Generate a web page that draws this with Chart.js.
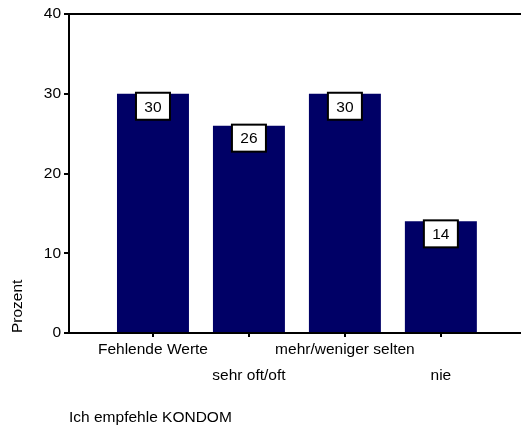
<!DOCTYPE html>
<html>
<head>
<meta charset="utf-8">
<script src="https://cdn.jsdelivr.net/npm/chart.js@4.4.1/dist/chart.umd.min.js"></script>
<style>
  html, body { margin: 0; padding: 0; background: #fff; }
  #wrap { width: 521px; height: 425px; }
</style>
</head>
<body>
<div id="wrap"><canvas id="chart"></canvas></div>
<script>
// Daten
const categories = ['Fehlende Werte', 'sehr oft/oft', 'mehr/weniger selten', 'nie'];
const percentValues = [30, 26, 30, 14];
const yTicks = [0, 10, 20, 30, 40];
const chartTitle = 'Ich empfehle KONDOM';
const yAxisLabel = 'Prozent';

const FONT = 'Liberation Sans, Arial, sans-serif';
const FONT_SIZE = 15.5;

// Rahmen oben + Wertekästchen + Titel
const extrasPlugin = {
    id: 'extras',
    afterDraw(chart) {
        const ctx = chart.ctx;
        const area = chart.chartArea;
        ctx.save();
        // obere Linie
        ctx.strokeStyle = '#000';
        ctx.lineWidth = 2;
        ctx.beginPath();
        ctx.moveTo(area.left - 5, area.top);
        ctx.lineTo(chart.width, area.top);
        ctx.stroke();

        // Wertebeschriftung in Kästchen
        const meta = chart.getDatasetMeta(0);
        ctx.font = FONT_SIZE + 'px ' + FONT;
        ctx.textAlign = 'center';
        ctx.textBaseline = 'middle';
        meta.data.forEach((bar, i) => {
            const w = 34, h = 27;
            const x = bar.x - w / 2;
            const y = bar.y - 1;
            ctx.fillStyle = '#fff';
            ctx.fillRect(x, y, w, h);
            ctx.strokeStyle = '#000';
            ctx.lineWidth = 2;
            ctx.strokeRect(x, y, w, h);
            ctx.fillStyle = '#000';
            ctx.fillText(String(percentValues[i]), bar.x, y + h / 2 + 1);
        });

        // Titel unten links
        ctx.textAlign = 'left';
        ctx.textBaseline = 'alphabetic';
        ctx.fillText(chartTitle, area.left, 422);
        ctx.restore();
    }
};

new Chart(document.getElementById('chart'), {
    type: 'bar',
    data: {
        datasets: [{
            data: percentValues.map((v, i) => ({ x: i + 1, y: v })),
            backgroundColor: '#000066',
            borderWidth: 0,
            categoryPercentage: 1,
            barPercentage: 0.75
        }]
    },
    options: {
        responsive: true,
        maintainAspectRatio: false,
        animation: false,
        layout: { padding: { top: 14, right: 0, bottom: 0, left: 0 } },
        plugins: {
            legend: { display: false },
            tooltip: { enabled: false }
        },
        scales: {
            x: {
                type: 'linear',
                offset: false,
                min: 0.125,
                max: 4.835,
                afterBuildTicks(scale) {
                    scale.ticks = categories.map((c, i) => ({ value: i + 1 }));
                },
                afterFit(scale) { scale.height = 92; },
                grid: {
                    offset: false,
                    drawOnChartArea: false,
                    drawTicks: true,
                    tickLength: 4,
                    color: '#000',
                    lineWidth: 2
                },
                border: { display: true, color: '#000', width: 2 },
                ticks: {
                    color: '#000',
                    padding: 0,
                    maxRotation: 0,
                    autoSkip: false,
                    font: { family: FONT, size: FONT_SIZE, lineHeight: 26 / FONT_SIZE },
                    callback(value) {
                        const i = Math.round(value) - 1;
                        const name = categories[i] || '';
                        return i % 2 === 0 ? [name, ''] : ['', name];
                    }
                }
            },
            y: {
                min: 0,
                max: 40,
                afterBuildTicks(scale) {
                    scale.ticks = yTicks.map(v => ({ value: v }));
                },
                afterFit(scale) { scale.width = 69; },
                grid: {
                    drawOnChartArea: false,
                    drawTicks: true,
                    tickLength: 5,
                    color: '#000',
                    lineWidth: 2
                },
                border: { display: true, color: '#000', width: 2 },
                ticks: {
                    color: '#000',
                    padding: 3,
                    font: { family: FONT, size: FONT_SIZE }
                },
                title: {
                    display: true,
                    text: yAxisLabel,
                    align: 'start',
                    color: '#000',
                    padding: { top: 8, bottom: 0 },
                    font: { family: FONT, size: FONT_SIZE }
                }
            }
        }
    },
    plugins: [extrasPlugin]
});
</script>
</body>
</html>
